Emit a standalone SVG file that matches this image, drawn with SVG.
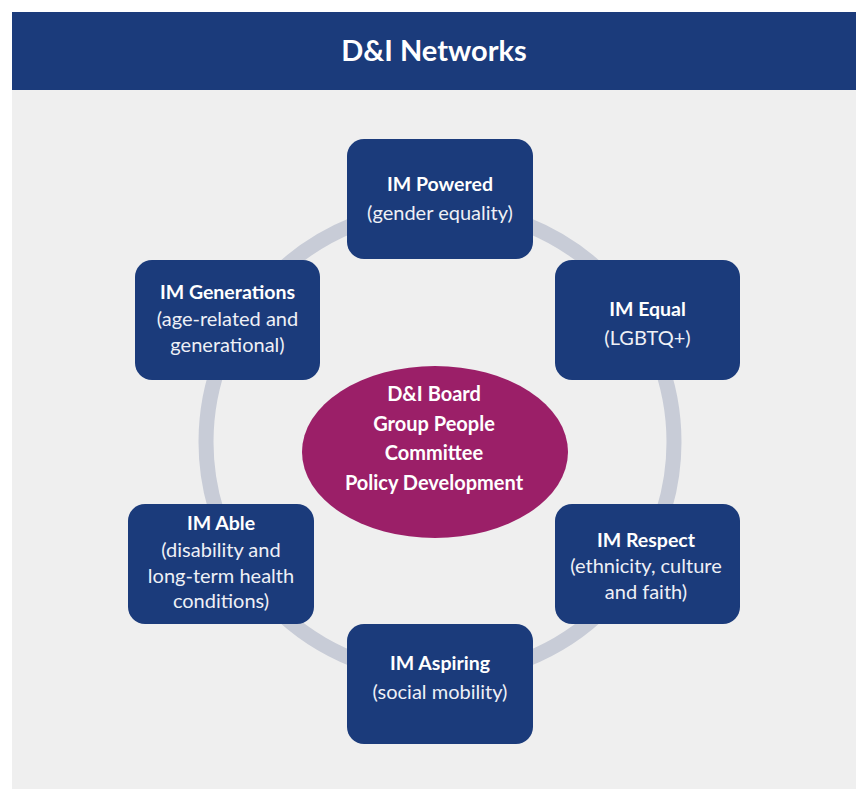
<svg xmlns="http://www.w3.org/2000/svg" width="856" height="790" viewBox="0 0 856 790">
  <style>
    .panel { fill: #efefef; }
    .header { fill: #1b3b7b; }
    .title { font-family: Lato, "Liberation Sans", sans-serif; font-weight: 700; font-size: 29px; fill: #ffffff; text-anchor: middle; }
    .ring { fill: none; stroke: #c8ccd7; stroke-width: 15; }
    .box { fill: #1b3b7b; }
    .hub { fill: #9b1f68; }
    .name { font-family: Lato, "Liberation Sans", sans-serif; font-weight: 700; font-size: 19.5px; fill: #ffffff; text-anchor: middle; }
    .desc { font-family: Lato, "Liberation Sans", sans-serif; font-weight: 400; font-size: 20px; fill: #eef0f6; text-anchor: middle; }
    .hubtext { font-family: Lato, "Liberation Sans", sans-serif; font-weight: 700; font-size: 20px; fill: #ffffff; text-anchor: middle; }
  </style>

  <rect x="0" y="0" width="856" height="790" fill="#ffffff"/>
  <rect class="panel" x="12" y="90" width="844" height="699"/>
  <g id="header">
    <rect class="header" x="12" y="12" width="844" height="78"/>
    <text class="title" x="434" y="61">D&amp;I Networks</text>
  </g>

  <!-- connecting ring behind the network boxes -->
  <g id="connectors">
    <circle class="ring" cx="440" cy="442" r="234"/>
  </g>

  <g id="hub">
    <ellipse class="hub" cx="435" cy="452" rx="133" ry="86"/>
    <text class="hubtext" x="434" y="401">D&amp;I Board</text>
    <text class="hubtext" x="434" y="431">Group People</text>
    <text class="hubtext" x="434" y="460">Committee</text>
    <text class="hubtext" x="434" y="490">Policy Development</text>
  </g>

  <g id="im-powered">
    <rect class="box" x="347" y="139" width="186" height="120" rx="17"/>
    <text class="name" x="440" y="191">IM Powered</text>
    <text class="desc" x="440" y="220">(gender equality)</text>
  </g>

  <g id="im-equal">
    <rect class="box" x="555" y="260" width="185" height="120" rx="17"/>
    <text class="name" x="647.5" y="316">IM Equal</text>
    <text class="desc" x="647.5" y="345">(LGBTQ+)</text>
  </g>

  <g id="im-respect">
    <rect class="box" x="555" y="504" width="185" height="120" rx="17"/>
    <text class="name" x="646" y="547">IM Respect</text>
    <text class="desc" x="646" y="573">(ethnicity, culture</text>
    <text class="desc" x="646" y="599">and faith)</text>
  </g>

  <g id="im-aspiring">
    <rect class="box" x="347" y="624" width="186" height="120" rx="17"/>
    <text class="name" x="440" y="670">IM Aspiring</text>
    <text class="desc" x="440" y="699">(social mobility)</text>
  </g>

  <g id="im-able">
    <rect class="box" x="128" y="504" width="186" height="120" rx="17"/>
    <text class="name" x="221" y="530">IM Able</text>
    <text class="desc" x="221" y="557">(disability and</text>
    <text class="desc" x="221" y="583">long-term health</text>
    <text class="desc" x="221" y="608">conditions)</text>
  </g>

  <g id="im-generations">
    <rect class="box" x="135" y="260" width="185" height="120" rx="17"/>
    <text class="name" x="227.5" y="299">IM Generations</text>
    <text class="desc" x="227.5" y="326">(age-related and</text>
    <text class="desc" x="227.5" y="352">generational)</text>
  </g>
</svg>
